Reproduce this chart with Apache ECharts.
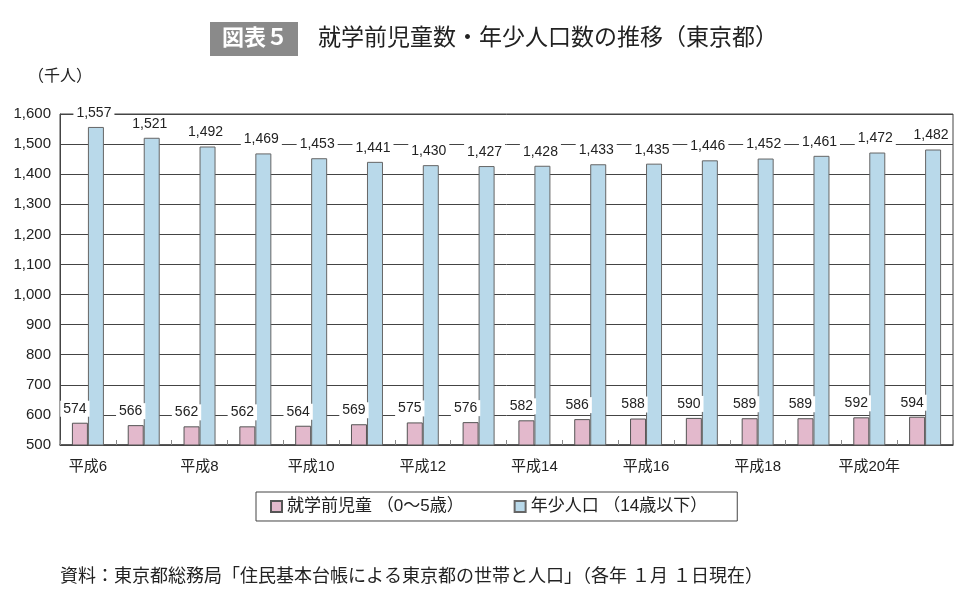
<!DOCTYPE html>
<html>
<head>
<meta charset="utf-8">
<script src="https://cdn.jsdelivr.net/npm/echarts@6/dist/echarts.min.js"></script>
<style>
  html, body { margin: 0; padding: 0; background: #fff; }
  #chart { width: 967px; height: 601px; }
</style>
</head>
<body>
<div id="chart"></div>
<script>
const years = ['平成6', '平成7', '平成8', '平成9', '平成10', '平成11', '平成12', '平成13',
  '平成14', '平成15', '平成16', '平成17', '平成18', '平成19', '平成20年', '平成21'];
const preschool = [574, 566, 562, 562, 564, 569, 575, 576, 582, 586, 588, 590, 589, 589, 592, 594];
const youth = [1557, 1521, 1492, 1469, 1453, 1441, 1430, 1427, 1428, 1433, 1435, 1446, 1452, 1461, 1472, 1482];
const seriesNames = ['就学前児童 （0～5歳）', '年少人口 （14歳以下）'];

const FONT = '"Liberation Sans", "Noto Sans CJK JP", sans-serif';
const fmt = v => v.toLocaleString('en-US');

const chart = echarts.init(document.getElementById('chart'), null, { renderer: 'canvas' });

function barLabel(offsetX) {
  return {
    show: true,
    position: 'top',
    distance: 6,
    offset: [offsetX, 0],
    fontFamily: FONT,
    fontSize: 14,
    color: '#222',
    backgroundColor: '#fff',
    padding: [1, 3],
    formatter: p => fmt(p.value)
  };
}

chart.setOption({
  animation: false,
  textStyle: { fontFamily: FONT },
  title: {
    left: 205,
    top: 17,
    text: '{box|図表５}{main|就学前児童数・年少人口数の推移（東京都）}',
    textStyle: {
      rich: {
        box: {
          backgroundColor: '#8a8a8a',
          color: '#fff',
          fontSize: 22,
          fontWeight: 'bold',
          fontFamily: FONT,
          padding: [6, 12, 6, 12],
          width: 64
        },
        main: {
          color: '#222',
          fontSize: 23,
          fontWeight: 'normal',
          fontFamily: FONT,
          padding: [0, 0, 0, 20]
        }
      }
    }
  },
  graphic: [
    {
      type: 'text', left: 28, top: 69,
      style: { text: '（千人）', font: '16px ' + FONT, fill: '#222' }
    },
    {
      type: 'text', left: 60, top: 568,
      style: {
        text: '資料：東京都総務局「住民基本台帳による東京都の世帯と人口」（各年 １月 １日現在）',
        font: '18px ' + FONT, fill: '#222'
      }
    }
  ],
  legend: {
    left: 256,
    top: 492,
    padding: [6, 30, 6, 14],
    borderColor: '#444',
    borderWidth: 1,
    itemWidth: 11,
    itemHeight: 11,
    itemGap: 50,
    icon: 'rect',
    textStyle: { fontSize: 17, color: '#222', fontFamily: FONT },
    data: seriesNames
  },
  grid: {
    left: 60, right: 14, top: 114, bottom: 156,
    show: true, borderColor: '#444', borderWidth: 1
  },
  xAxis: {
    type: 'category',
    data: years,
    axisLine: { lineStyle: { color: '#444', width: 1.5 } },
    axisTick: { show: true, inside: true, length: 5, interval: 0, lineStyle: { color: '#888' } },
    axisLabel: { interval: 1, fontSize: 15, color: '#222', margin: 14, fontFamily: FONT }
  },
  yAxis: {
    type: 'value',
    min: 500,
    max: 1600,
    interval: 100,
    axisLine: { show: true, lineStyle: { color: '#444' } },
    axisTick: { show: false },
    axisLabel: { fontSize: 15, color: '#222', margin: 9, fontFamily: FONT, formatter: v => fmt(v) },
    splitLine: { lineStyle: { color: '#444', width: 1 } }
  },
  series: [
    {
      name: seriesNames[0],
      type: 'bar',
      data: preschool,
      barWidth: 16,
      barGap: '0%',
      itemStyle: { color: '#e3b9cc', borderColor: '#555', borderWidth: 1 },
      label: barLabel(-5)
    },
    {
      name: seriesNames[1],
      type: 'bar',
      data: youth,
      barWidth: 16,
      itemStyle: { color: '#b9d9ea', borderColor: '#666', borderWidth: 1 },
      label: barLabel(-2)
    }
  ]
});
</script>
</body>
</html>
